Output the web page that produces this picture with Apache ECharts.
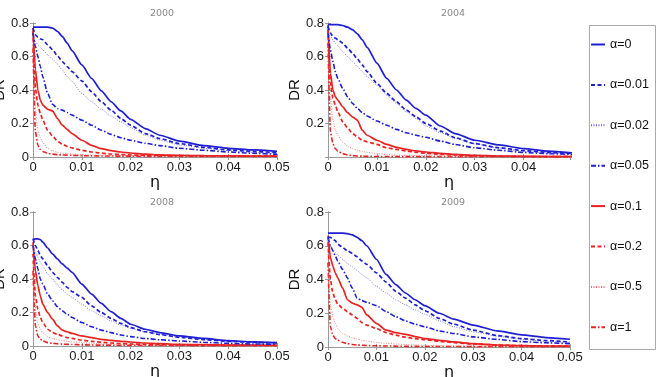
<!DOCTYPE html>
<html>
<head>
<meta charset="utf-8">
<script src="https://cdn.jsdelivr.net/npm/echarts@6/dist/echarts.min.js"></script>
<style>
  html, body { margin: 0; padding: 0; background: #fff; }
  #chart { width: 658px; height: 377px; }
</style>
</head>
<body>
<div id="chart"></div>
<script>
// eta sample points shared by every curve
const eta = [0, 0.0005, 0.001, 0.0015, 0.002, 0.003, 0.004, 0.005, 0.006, 0.007, 0.008, 0.01,
  0.012, 0.014, 0.016, 0.018, 0.02, 0.023, 0.026, 0.03, 0.035, 0.04, 0.045, 0.05];

const alphaNames = ['α=0', 'α=0.01', 'α=0.02', 'α=0.05', 'α=0.1', 'α=0.2', 'α=0.5', 'α=1'];
const years = ['2000', '2004', '2008', '2009'];

// DR curves per year, one row per alpha (same order as alphaNames)
const dr2000 = [
  [.775,.775,.775,.775,.775,.775,.77,.75,.72,.68,.635,.55,.47,.395,.33,.275,.225,.17,.13,.095,.068,.052,.042,.034],
  [.77,.73,.715,.705,.70,.67,.64,.605,.57,.54,.51,.455,.39,.33,.28,.23,.19,.14,.11,.08,.058,.042,.033,.026],
  [.72,.69,.67,.655,.64,.61,.585,.555,.52,.48,.45,.38,.33,.285,.245,.21,.175,.13,.10,.072,.052,.038,.028,.021],
  [.74,.66,.60,.54,.48,.38,.315,.29,.28,.265,.25,.22,.19,.16,.135,.115,.10,.082,.068,.052,.04,.03,.022,.016],
  [.77,.52,.40,.34,.31,.285,.275,.23,.19,.165,.14,.10,.07,.05,.038,.03,.024,.017,.013,.01,.008,.007,.006,.005],
  [.75,.41,.31,.26,.22,.16,.125,.095,.077,.064,.054,.04,.03,.023,.018,.015,.012,.01,.009,.008,.007,.006,.005,.005],
  [.70,.28,.16,.115,.085,.052,.037,.028,.023,.02,.018,.014,.012,.01,.009,.008,.008,.007,.006,.005,.005,.004,.004,.004],
  [.65,.15,.07,.045,.033,.022,.017,.014,.012,.011,.01,.008,.007,.006,.006,.005,.005,.004,.004,.004,.003,.003,.003,.003]
];
const dr2004 = [
  [.79,.79,.79,.79,.79,.785,.775,.76,.735,.70,.655,.56,.47,.40,.34,.29,.25,.185,.14,.10,.072,.05,.035,.025],
  [.78,.74,.72,.71,.70,.68,.65,.62,.585,.55,.51,.44,.38,.33,.28,.24,.20,.155,.115,.08,.055,.038,.028,.02],
  [.74,.72,.70,.68,.665,.63,.60,.57,.54,.51,.48,.43,.37,.32,.27,.23,.185,.145,.11,.078,.053,.034,.024,.016],
  [.74,.64,.57,.51,.47,.41,.36,.32,.29,.265,.245,.215,.19,.165,.145,.13,.118,.095,.075,.055,.04,.027,.02,.015],
  [.79,.50,.40,.36,.34,.30,.265,.24,.22,.16,.13,.10,.075,.058,.045,.036,.03,.022,.016,.01,.006,.004,.003,.002],
  [.76,.44,.35,.31,.27,.21,.175,.14,.12,.10,.09,.075,.055,.045,.036,.028,.022,.016,.012,.008,.005,.003,.002,.002],
  [.72,.35,.22,.16,.13,.09,.065,.05,.04,.033,.028,.02,.015,.011,.009,.008,.007,.005,.004,.003,.002,.002,.002,.002],
  [.68,.15,.08,.05,.035,.02,.012,.008,.006,.005,.004,.003,.003,.002,.002,.002,.002,.002,.002,.002,.002,.002,.002,.002]
];
const dr2008 = [
  [.635,.64,.64,.635,.62,.585,.55,.52,.49,.465,.44,.37,.31,.255,.205,.165,.13,.10,.08,.06,.045,.032,.025,.02],
  [.64,.60,.57,.54,.52,.48,.44,.41,.38,.35,.325,.29,.24,.20,.165,.135,.11,.085,.068,.052,.038,.028,.022,.018],
  [.60,.56,.53,.50,.48,.43,.40,.365,.335,.31,.29,.25,.21,.18,.15,.125,.105,.085,.07,.055,.04,.03,.022,.016],
  [.60,.52,.46,.40,.37,.31,.27,.235,.21,.19,.17,.14,.115,.095,.08,.066,.056,.045,.037,.03,.022,.016,.012,.01],
  [.62,.45,.36,.30,.25,.20,.16,.12,.095,.085,.075,.06,.05,.04,.033,.028,.024,.018,.014,.01,.008,.006,.005,.004],
  [.55,.30,.22,.17,.14,.10,.08,.07,.06,.05,.045,.035,.028,.022,.018,.015,.012,.01,.008,.006,.005,.004,.004,.003],
  [.50,.22,.14,.10,.08,.055,.045,.038,.032,.028,.025,.02,.016,.013,.011,.009,.008,.006,.005,.004,.003,.003,.003,.003],
  [.45,.12,.06,.04,.03,.02,.016,.013,.011,.01,.009,.007,.006,.005,.005,.004,.004,.003,.003,.003,.002,.002,.002,.002]
];
const dr2009 = [
  [.675,.675,.675,.675,.675,.675,.672,.665,.65,.63,.60,.52,.43,.37,.32,.28,.245,.20,.165,.13,.095,.072,.056,.046],
  [.65,.65,.64,.63,.61,.59,.57,.555,.535,.51,.49,.44,.385,.33,.29,.25,.215,.17,.135,.10,.068,.05,.038,.03],
  [.64,.60,.58,.56,.545,.52,.495,.475,.455,.43,.41,.36,.32,.28,.25,.22,.195,.155,.12,.09,.064,.045,.033,.026],
  [.65,.60,.57,.54,.51,.46,.41,.35,.29,.275,.265,.245,.21,.18,.155,.135,.12,.095,.08,.06,.045,.032,.025,.02],
  [.66,.53,.48,.44,.41,.35,.28,.26,.25,.235,.19,.14,.10,.085,.075,.062,.05,.04,.03,.02,.012,.008,.006,.005],
  [.62,.40,.32,.28,.255,.23,.21,.19,.17,.145,.13,.11,.085,.07,.058,.05,.043,.034,.026,.018,.012,.008,.006,.005],
  [.55,.25,.18,.14,.11,.08,.065,.055,.047,.04,.035,.027,.022,.018,.015,.012,.01,.008,.006,.005,.004,.003,.003,.003],
  [.50,.12,.07,.05,.04,.028,.02,.015,.012,.01,.009,.007,.006,.005,.004,.004,.003,.003,.003,.002,.002,.002,.002,.002]
];
const xMax = [0.05, 0.0495, 0.05, 0.05];

var allData = [dr2000, dr2004, dr2008, dr2009];

var BLUE = '#1e1ed2', RED = '#e82222', AXIS = '#9a9a9a';
var lineStyles = [
  { color: BLUE, width: 1.7, type: 'solid' },
  { color: BLUE, width: 1.7, type: [4, 2.5] },
  { color: '#6a6ae6', width: 0.9, type: [1, 1.5] },
  { color: BLUE, width: 1.6, type: [5, 2, 1.5, 2] },
  { color: RED, width: 1.7, type: 'solid' },
  { color: RED, width: 1.7, type: [4, 2.5] },
  { color: '#f07070', width: 0.9, type: [1, 1.5] },
  { color: RED, width: 1.6, type: [5, 2, 1.5, 2] }
];

var grids = [
  { left: 33, top: 23, width: 244, height: 134, outerBoundsMode: 'none' },
  { left: 328, top: 23, width: 242, height: 134, outerBoundsMode: 'none' },
  { left: 33, top: 212, width: 244, height: 134, outerBoundsMode: 'none' },
  { left: 328, top: 212, width: 242, height: 135, outerBoundsMode: 'none' }
];
var titlePos = [[157, 4], [448, 4], [157, 193], [448, 193]];

var labelFont = { fontFamily: 'Liberation Sans, Arial, sans-serif', fontSize: 13, color: '#1a1a1a' };

var xAxes = [], yAxes = [], series = [], titles = [];
grids.forEach(function (g, i) {
  titles.push({
    text: years[i], left: titlePos[i][0], top: titlePos[i][1], textAlign: 'center',
    textStyle: { fontSize: 9.5, fontWeight: 'normal', color: '#888', fontFamily: 'DejaVu Sans, sans-serif' }
  });
  var tick = { show: true, inside: true, length: 3, lineStyle: { color: AXIS } };
  var line = { show: true, lineStyle: { color: AXIS, width: 1 } };
  xAxes.push({
    type: 'value', gridIndex: i, position: 'bottom', min: 0, max: xMax[i], interval: 0.01,
    axisLine: line, axisTick: tick, splitLine: { show: false },
    axisLabel: Object.assign({ margin: 4, showMaxLabel: i !== 1 }, labelFont),
    name: 'η', nameLocation: 'middle', nameGap: 7,
    nameTextStyle: { fontSize: 16, color: '#111', fontFamily: 'DejaVu Sans, sans-serif' }
  });
  xAxes.push({
    type: 'value', gridIndex: i, position: 'top', min: 0, max: xMax[i], interval: 0.01,
    axisLine: line, axisTick: tick, axisLabel: { show: false }, splitLine: { show: false }
  });
  yAxes.push({
    type: 'value', gridIndex: i, position: 'left', min: 0, max: 0.8, interval: 0.2,
    axisLine: line, axisTick: tick, splitLine: { show: false },
    axisLabel: Object.assign({ margin: 4, showMinLabel: i !== 1 }, labelFont),
    name: 'DR', nameLocation: 'middle', nameGap: 21,
    nameTextStyle: { fontSize: 15, color: '#111', fontFamily: 'Liberation Sans, Arial, sans-serif' }
  });
  yAxes.push({
    type: 'value', gridIndex: i, position: 'right', min: 0, max: 0.8, interval: 0.2,
    axisLine: line, axisTick: tick, axisLabel: { show: false }, splitLine: { show: false }
  });
  allData[i].forEach(function (vals, k) {
    series.push({
      name: alphaNames[k], type: 'line', xAxisIndex: i * 2, yAxisIndex: i * 2,
      data: eta.map(function (x, j) { return [x, vals[j]]; }),
      symbol: 'none', smooth: 0.2, smoothMonotone: 'x', clip: true,
      lineStyle: lineStyles[k], itemStyle: { color: lineStyles[k].color },
      z: 10 - k
    });
  });
});

var option = {
  backgroundColor: '#fff',
  animation: false,
  title: titles,
  grid: grids,
  xAxis: xAxes,
  yAxis: yAxes,
  legend: {
    orient: 'vertical', left: 590, top: 38, padding: 0, itemWidth: 14, itemHeight: 10, itemGap: 27.4,
    data: alphaNames,
    itemStyle: { color: 'transparent', borderWidth: 0, opacity: 0 },
    textStyle: { fontFamily: 'Liberation Sans, Arial, sans-serif', fontSize: 12.5, color: '#111' }
  },
  graphic: [{
    type: 'rect', left: 587, top: 23, shape: { width: 66, height: 324 },
    style: { fill: 'none', stroke: '#aaa', lineWidth: 1 }, silent: true
  }],
  series: series
};

var chart = echarts.init(document.getElementById('chart'));
chart.setOption(option);
</script>
</body>
</html>
